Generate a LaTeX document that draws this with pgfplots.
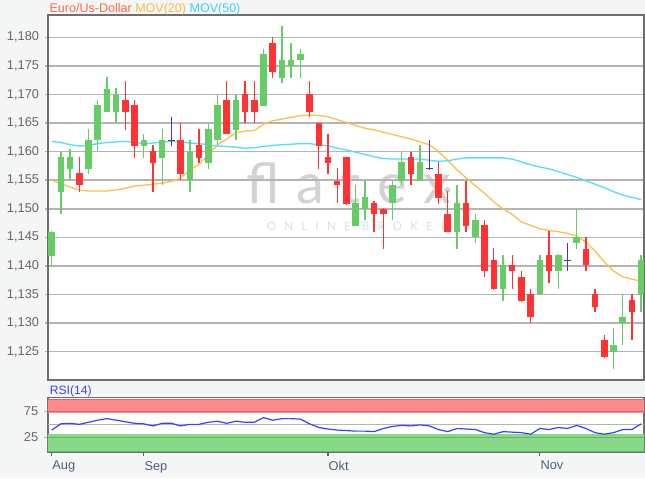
\documentclass[border=0pt]{standalone}
\usepackage{pgfplots}
\pgfplotsset{compat=1.18}
\usepackage{pgfplotstable}
\usepackage{fontspec}
\setmainfont{Liberation Sans}
\newfontfamily\wmfont[LetterSpace=30]{Lato}
\newfontfamily\wmsmall[LetterSpace=72]{Lato}

\definecolor{pagebg}{HTML}{F4F6F6}
\definecolor{titlered}{HTML}{FF6A48}
\definecolor{movorange}{HTML}{FFB940}
\definecolor{movcyan}{HTML}{3DD0FF}
\definecolor{lineorange}{HTML}{FFBE4D}
\definecolor{linecyan}{HTML}{55DDFF}
\definecolor{cred}{HTML}{FF3333}
\definecolor{cgreen}{HTML}{66CC66}
\definecolor{cblue}{HTML}{4433CC}
\definecolor{gridgray}{HTML}{B4B4B4}
\definecolor{axisgray}{HTML}{6E6E6E}
\definecolor{labelgray}{HTML}{666666}
\definecolor{monthblue}{HTML}{4A6078}
\definecolor{wmgray}{HTML}{D2D2D2}
\definecolor{wmlight}{HTML}{DEDEDE}
\definecolor{rsiredband}{HTML}{FF8A8A}
\definecolor{rsiredline}{HTML}{DE6666}
\definecolor{rsigreenband}{HTML}{88D888}
\definecolor{rsigreenline}{HTML}{62B862}
\definecolor{rsiblue}{HTML}{3344FF}

% candles: trading day index, open, high, low, close
\pgfplotstableread{
x o h l c
0 1.1418 1.1462 1.1399 1.1459
1 1.1530 1.1599 1.1491 1.1590
2 1.1570 1.1605 1.1551 1.1590
4 1.1570 1.1640 1.1560 1.1621
5 1.1620 1.1691 1.1601 1.1681
6 1.1670 1.1730 1.1669 1.1710
7 1.1670 1.1711 1.1650 1.1699
10 1.1609 1.1631 1.1589 1.1621
12 1.1589 1.1640 1.1541 1.1621
15 1.1550 1.1621 1.1530 1.1600
17 1.1580 1.1650 1.1570 1.1640
18 1.1620 1.1699 1.1611 1.1681
20 1.1638 1.1699 1.1621 1.1691
23 1.1680 1.1779 1.1680 1.1771
25 1.1728 1.1820 1.1720 1.1760
26 1.1750 1.1790 1.1728 1.1760
27 1.1760 1.1779 1.1728 1.1771
33 1.1470 1.1542 1.1470 1.1510
34 1.1500 1.1549 1.1480 1.1521
37 1.1510 1.1549 1.1480 1.1541
38 1.1549 1.1599 1.1541 1.1581
40 1.1549 1.1611 1.1549 1.1581
44 1.1460 1.1541 1.1430 1.1510
46 1.1451 1.1491 1.1441 1.1481
49 1.1360 1.1420 1.1339 1.1401
53 1.1351 1.1420 1.1350 1.1410
55 1.1391 1.1421 1.1360 1.1420
57 1.1440 1.1500 1.1430 1.1451
61 1.1250 1.1291 1.1219 1.1261
62 1.1301 1.1351 1.1261 1.1311
64 1.1351 1.1420 1.1319 1.1410
}\greentab

\pgfplotstableread{
x o h l c
3 1.1562 1.1590 1.1530 1.1541
8 1.1691 1.1723 1.1638 1.1670
9 1.1681 1.1691 1.1589 1.1609
11 1.1601 1.1611 1.1530 1.1580
14 1.1621 1.1650 1.1551 1.1560
16 1.1611 1.1640 1.1580 1.1589
19 1.1691 1.1723 1.1630 1.1630
21 1.1700 1.1723 1.1650 1.1670
22 1.1691 1.1723 1.1650 1.1670
24 1.1790 1.1800 1.1728 1.1739
28 1.1700 1.1723 1.1660 1.1670
29 1.1650 1.1650 1.1570 1.1609
30 1.1590 1.1631 1.1560 1.1580
31 1.1549 1.1572 1.1510 1.1541
32 1.1590 1.1591 1.1507 1.1509
35 1.1510 1.1513 1.1460 1.1491
36 1.1500 1.1502 1.1430 1.1491
39 1.1590 1.1599 1.1541 1.1560
42 1.1560 1.1581 1.1509 1.1519
43 1.1491 1.1532 1.1460 1.1460
45 1.1510 1.1549 1.1460 1.1470
47 1.1471 1.1481 1.1380 1.1391
48 1.1410 1.1432 1.1358 1.1360
50 1.1401 1.1420 1.1360 1.1391
51 1.1381 1.1391 1.1337 1.1339
52 1.1351 1.1360 1.1300 1.1310
54 1.1420 1.1462 1.1370 1.1391
58 1.1430 1.1451 1.1391 1.1401
59 1.1351 1.1360 1.1319 1.1329
60 1.1270 1.1280 1.1239 1.1240
63 1.1340 1.1351 1.1270 1.1319
}\redtab

\pgfplotstableread{
x o h l c
13 1.1620 1.1660 1.1609 1.1620
41 1.1570 1.1621 1.1569 1.1570
56 1.1410 1.1440 1.1391 1.1410
}\dojitab

% moving averages and RSI
\pgfplotstableread{
x mov20 mov50 rsi
0 1.1550 1.1618 39
1 1.1544 1.1616 51
2 1.1538 1.1612 52
3 1.1533 1.1610 50
4 1.1531 1.1611 54
5 1.1531 1.1614 58
6 1.1531 1.1616 61
7 1.1533 1.1617 58
8 1.1536 1.1618 55
9 1.1540 1.1616 52
10 1.1541 1.1614 51
11 1.1543 1.1615 47
12 1.1545 1.1617 52
13 1.1548 1.1618 52
14 1.1554 1.1617 47
15 1.1568 1.1615 50
16 1.1578 1.1614 50
17 1.1594 1.1612 54
18 1.1612 1.1610 56
19 1.1622 1.1609 52
20 1.1633 1.1608 56
21 1.1636 1.1606 54
22 1.1637 1.1607 54
23 1.1648 1.1609 63
24 1.1654 1.1611 58
25 1.1657 1.1612 61
26 1.1660 1.1613 61
27 1.1663 1.1614 60
28 1.1664 1.1614 51
29 1.1663 1.1612 44
30 1.1661 1.1610 41
31 1.1656 1.1606 39
32 1.1651 1.1603 38
33 1.1646 1.1599 37
34 1.1641 1.1595 37
35 1.1638 1.1591 36
36 1.1634 1.1588 42
37 1.1630 1.1587 46
38 1.1626 1.1587 48
39 1.1622 1.1587 47
40 1.1617 1.1587 49
41 1.1612 1.1585 47
42 1.1600 1.1583 40
43 1.1585 1.1584 36
44 1.1568 1.1587 42
45 1.1554 1.1589 41
46 1.1540 1.1589 40
47 1.1527 1.1589 34
48 1.1512 1.1589 31
49 1.1500 1.1589 36
50 1.1490 1.1587 35
51 1.1477 1.1582 34
52 1.1471 1.1577 31
53 1.1465 1.1573 42
54 1.1462 1.1570 40
55 1.1460 1.1565 44
56 1.1457 1.1560 42
57 1.1452 1.1555 48
58 1.1442 1.1549 42
59 1.1426 1.1543 34
60 1.1407 1.1537 31
61 1.1391 1.1530 34
62 1.1381 1.1524 40
63 1.1377 1.1520 40
64 1.1373 1.1516 51
}\indtab

\begin{document}
\begin{tikzpicture}
\fill[pagebg] (0,0) rectangle (483.75pt,-358.5pt);
\fill[white] (36pt,-11.25pt) rectangle (483pt,-285pt);
\fill[white] (36pt,-298.3pt) rectangle (483pt,-339.5pt);
% watermark
\node[anchor=base, text=wmgray, inner sep=0pt, font=\wmfont\fontsize{42}{44}\selectfont] at (261.4pt,-152.25pt) {flatex};
\fill[wmgray] (335.5pt,-142.5pt) circle (2.2pt);
\node[anchor=base, text=wmlight, inner sep=0pt, font=\wmsmall\fontsize{8.6}{10}\selectfont] at (268.2pt,-172.5pt) {ONLINE BROKER};

\begin{axis}[
    at={(36pt,-11.25pt)}, anchor=north west,
    scale only axis, width=447pt, height=273.75pt,
    xmin=-0.4, xmax=64.31, ymin=1.12005, ymax=1.1839,
    xtick=\empty,
    ytick={1.125,1.130,1.135,1.140,1.145,1.150,1.155,1.160,1.165,1.170,1.175,1.180},
    ytick pos=left,
    ymajorgrids, grid style={draw=gridgray, line width=1.1pt},
    axis line style={draw=axisgray, line width=0.8pt},
    tick align=outside, major tick length=2.2pt,
    ytick style={draw=gridgray, line width=1.1pt},
    yticklabel style={text=labelgray, font=\fontsize{9.6}{11}\selectfont, xshift=-1pt,
      /pgf/number format/.cd, fixed, fixed zerofill, precision=3, use comma, assume math mode=true},
]
% moving averages
\addplot[lineorange, line width=1pt] table[x=x, y=mov20] \indtab;
\addplot[linecyan, line width=1pt] table[x=x, y=mov50] \indtab;
% wicks
\addplot[draw=none, error bars/.cd, y dir=both, y explicit, error mark=none,
    error bar style={draw=cgreen, line width=1pt}]
    table[x=x, y=c, y error plus expr=\thisrow{h}-\thisrow{c}, y error minus expr=\thisrow{c}-\thisrow{l}] \greentab;
\addplot[draw=none, error bars/.cd, y dir=both, y explicit, error mark=none,
    error bar style={draw=cred, line width=1pt}]
    table[x=x, y=o, y error plus expr=\thisrow{h}-\thisrow{o}, y error minus expr=\thisrow{o}-\thisrow{l}] \redtab;
\addplot[draw=none, error bars/.cd, y dir=both, y explicit, error mark=none,
    error bar style={draw=cblue, line width=1pt}]
    table[x=x, y=c, y error plus expr=\thisrow{h}-\thisrow{c}, y error minus expr=\thisrow{c}-\thisrow{l}] \dojitab;
% bodies
\addplot[draw=none, error bars/.cd, y dir=minus, y explicit, error mark=none,
    error bar style={draw=cgreen, line width=4.9pt}]
    table[x=x, y=c, y error minus expr=\thisrow{c}-\thisrow{o}] \greentab;
\addplot[draw=none, error bars/.cd, y dir=minus, y explicit, error mark=none,
    error bar style={draw=cred, line width=4.9pt}]
    table[x=x, y=o, y error minus expr=\thisrow{o}-\thisrow{c}] \redtab;
\addplot[only marks, mark=-, mark size=2.5pt, mark options={draw=cblue, line width=0.9pt}]
    table[x=x, y=c] \dojitab;
\end{axis}

\begin{axis}[
    at={(36pt,-298.3pt)}, anchor=north west,
    scale only axis, width=447pt, height=41.25pt,
    xmin=-0.4, xmax=64.31, ymin=-4.6, ymax=101.2,
    xtick={0,10,30,53}, xticklabels={Aug,Sep,Okt,Nov},
    ytick={25,75},
    xtick pos=bottom, ytick pos=left,
    axis line style={draw=axisgray, line width=0.8pt},
    tick align=outside, major tick length=2.8pt,
    xtick style={draw=monthblue, line width=0.8pt},
    ytick style={draw=gridgray, line width=1pt},
    xticklabel style={text=monthblue, font=\fontsize{9.6}{11}\selectfont, anchor=north west, xshift=-3pt},
    yticklabel style={text=labelgray, font=\fontsize{9.6}{11}\selectfont, xshift=-1pt,
      /pgf/number format/.cd, assume math mode=true},
]
\addplot[fill=rsiredband, draw=none] coordinates {(-1,71) (66,71) (66,99) (-1,99)} -- cycle;
\addplot[fill=rsigreenband, draw=none] coordinates {(-1,-3) (66,-3) (66,31) (-1,31)} -- cycle;
\addplot[rsiredline, line width=1pt] coordinates {(-1,75) (66,75)};
\addplot[rsiredline, line width=1pt] coordinates {(-1,98) (66,98)};
\addplot[rsigreenline, line width=1pt] coordinates {(-1,25) (66,25)};
\addplot[rsigreenline, line width=1pt] coordinates {(-1,-2) (66,-2)};
\addplot[gridgray, line width=0.9pt] coordinates {(-1,50) (66,50)};
\addplot[rsiblue, line width=0.9pt] table[x=x, y=rsi] \indtab;
\end{axis}

\node[anchor=base west, inner sep=0pt, font=\fontsize{9.4}{11}\selectfont] at (37pt,-9.2pt)
  {\textcolor{titlered}{Euro/Us-Dollar} \textcolor{movorange}{MOV(20)} \textcolor{movcyan}{MOV(50)}};
\node[anchor=base west, inner sep=0pt, text=rsiblue, font=\fontsize{9.1}{11}\selectfont] at (37.2pt,-296.2pt) {RSI(14)};

\pgfresetboundingbox
\path[use as bounding box] (0,0) rectangle (483.75pt,-358.5pt);
\end{tikzpicture}
\end{document}
